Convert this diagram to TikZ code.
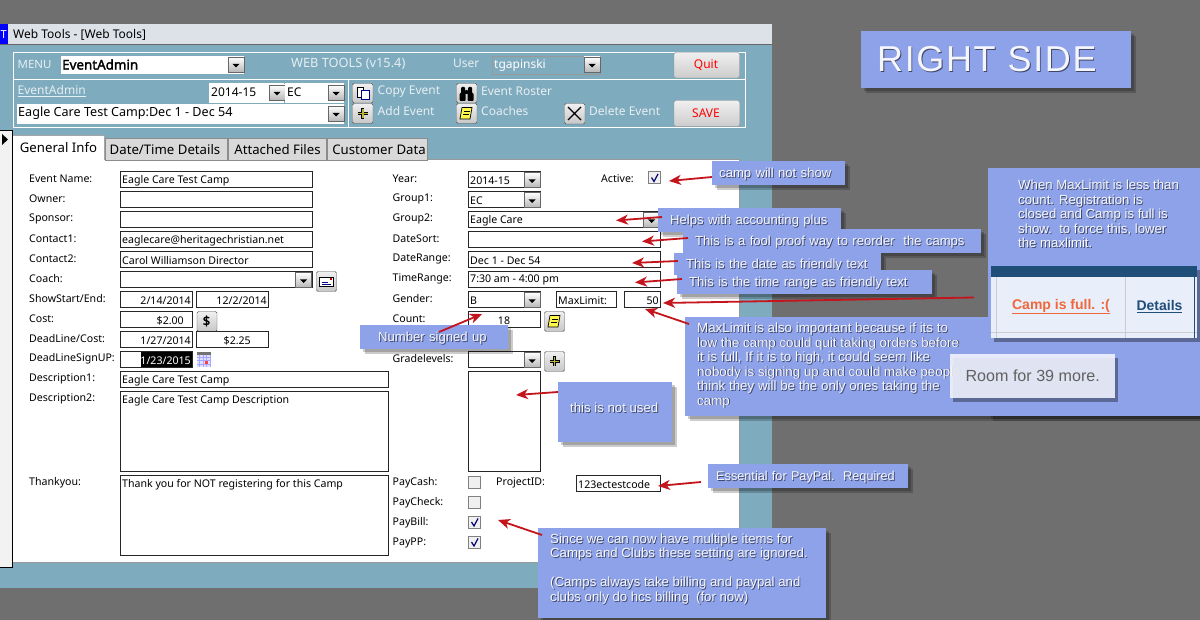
\documentclass[tikz,border=0pt]{standalone}
\usepackage{fontspec}
\setmainfont{Noto Sans}
\newfontfamily\notefont{Liberation Sans}
\newfontfamily\titlefont[LetterSpace=4.5]{Liberation Sans}
\newfontfamily\boldui[FakeBold=2]{Noto Sans}
\usetikzlibrary{arrows.meta,shadows}

\definecolor{backgray}{HTML}{6F6F6F}
\definecolor{tealpanel}{HTML}{7FABBE}
\definecolor{titlegray}{HTML}{DDE1E8}
\definecolor{notefill}{HTML}{8EA2E9}
\definecolor{noteshade}{HTML}{3E4668}
\definecolor{notetxt}{HTML}{F4F6FC}
\definecolor{arrowred}{HTML}{C4141C}
\definecolor{headlight}{HTML}{E6EFF3}
\definecolor{tabgray}{HTML}{D9D9D9}
\definecolor{tablehead}{HTML}{1F4E79}
\definecolor{tablebody}{HTML}{E9EEFB}
\definecolor{roombody}{HTML}{F3F5FE}
\definecolor{campfull}{HTML}{F0683A}

\tikzset{
  fieldline/.style={draw=black!85, line width=.9pt, fill=white},
  fieldtext/.style={anchor=west, inner sep=0pt, yshift=-.8pt, text=black, font=\fontsize{10.6}{12}\selectfont},
  formlabel/.style={anchor=west, inner sep=0pt, yshift=-.8pt, text=black, font=\fontsize{10.6}{12}\selectfont},
  headtext/.style={anchor=west, inner sep=0pt, text=headlight, font=\fontsize{12}{14}\selectfont},
  combotext/.style={anchor=west, inner sep=0pt, text=black, font=\fontsize{12}{14}\selectfont},
  tabtext/.style={anchor=center, inner sep=0pt, text=black, font=\fontsize{13.2}{15}\selectfont},
  bigbutton/.style={draw=black!45, rounded corners=2pt, top color=white!94!black, bottom color=black!20},
  smallbutton/.style={draw=black!60, line width=.4pt, top color=white, bottom color=black!28},
  iconbutton/.style={draw=black!70, rounded corners=1.5pt, top color=white!94!black, bottom color=black!22},
  checkbox/.style={draw=black!50, line width=1pt, fill=black!6},
  notebox/.style={anchor=north west, align=left, inner xsep=7pt, inner ysep=0pt, fill=notefill,
    text height=10pt, text depth=1.4pt,
    text=notetxt, font=\notefont\fontsize{13.1}{14.5}\selectfont,
    drop shadow={shadow xshift=4.5pt, shadow yshift=-4.5pt, fill=black, opacity=.2},
    drop shadow={shadow xshift=2.5pt, shadow yshift=-2.5pt, fill=black, opacity=.2}},
  notetext/.style={anchor=north west, align=left, inner sep=0pt, text=notetxt, font=\notefont\fontsize{13.2}{14.5}\selectfont},
  notearrow/.style={draw=arrowred, line width=1.8pt, -{Stealth[length=12pt,width=10pt,inset=3.5pt]}}
}

\newcommand{\noteline}[1]{\leavevmode\rlap{\kern.9pt\raisebox{-.9pt}{\color{noteshade}#1}}#1}
\newcommand{\dropbtn}[2]{%
  \begin{scope}[shift={(#1,#2)}]
    \draw[smallbutton] (0,0) rectangle (16,15);
    \fill[black] (4.5,7) -- (11.5,7) -- (8,10.5) -- cycle;
  \end{scope}}
\newcommand{\checkmarked}[2]{%
  \draw[checkbox] (#1,#2) rectangle ++(12,12);
  \draw[blue!45!black, line width=1.2pt] (#1+3,#2+6) -- (#1+5.5,#2+10) -- (#1+9.5,#2+2.5);}

\begin{document}
\begin{tikzpicture}[x=1pt,y=-1pt]
\useasboundingbox (0,0) rectangle (1200,620);
\fill[backgray] (0,0) rectangle (1200,620);

% Window and title bar
\fill[tealpanel] (0,45) rectangle (772,588);
\fill[titlegray] (0,24) rectangle (772,45);
\draw[black!60, line width=1pt] (0,45) -- (772,45);
\fill[blue] (0,24) rectangle (7.5,44);
\node[anchor=center, inner sep=0pt, text=white, font=\fontsize{11}{12}\selectfont] (titleicon) at (3.8,34.5) {T};
\node[combotext] (titletext) at (13,35) {Web Tools - [Web Tools]};

% Header frames
\draw[white, line width=.9pt] (13,52) rectangle (745,127);
\draw[white, line width=.9pt] (13,79.5) -- (745,79.5);
\draw[white, line width=.9pt] (348.5,79.5) -- (348.5,127);

% Header first row
\node[headtext, font=\fontsize{11.4}{14}\selectfont] (menulabel) at (17.5,64) {MENU};
\fill[white] (61,56) rectangle (244,74);
\node[combotext, font=\boldui\fontsize{13.4}{14}\selectfont] (menuvalue) at (62,64.5) {EventAdmin};
\dropbtn{228}{57}
\node[headtext, font=\fontsize{12.8}{14}\selectfont] (webtools) at (291,63.5) {WEB TOOLS (v15.4)};
\node[headtext] (userlabel) at (453,63.5) {User};
\draw[black!40, line width=.6pt] (492.5,56) rectangle (600,74);
\node[headtext, text=white] (uservalue) at (494,65) {tgapinski};
\dropbtn{584}{57}
\draw[bigbutton] (674,52.5) rectangle (739.5,78);
\node[tabtext, text=red, font=\fontsize{12}{14}\selectfont] (quit) at (706,65) {Quit};

% Header second row
\node[headtext] (eventlink) at (17.5,91.5) {\underline{EventAdmin}};
\fill[white] (209,83.5) rectangle (284,103);
\node[combotext] (yearvalue) at (211,92.5) {2014-15};
\dropbtn{269}{85}
\fill[white] (285,83.5) rectangle (344,103);
\node[combotext] (ecvalue) at (287,92.5) {EC};
\dropbtn{328}{85}
\fill[white] (17,104) rectangle (344,124);
\node[combotext, font=\fontsize{12.6}{14}\selectfont] (campvalue) at (18,113) {Eagle Care Test Camp:Dec 1 - Dec 54};
\dropbtn{328}{106}
% Icon buttons
\draw[iconbutton] (352.5,83.5) rectangle (373,103);
\draw[black, fill=white] (357,87) rectangle (363,97);
\draw[blue!60!black, fill=white, line width=.8pt] (361,90) rectangle (369,99.5);
\draw[iconbutton] (352.5,103.5) rectangle (373,123.5);
\draw[black, line width=3.4pt] (357.5,113.5) -- (368,113.5) (362.75,108.5) -- (362.75,119);
\draw[yellow!70!black, line width=1.6pt] (358,113.5) -- (367.5,113.5) (362.75,109) -- (362.75,118.5);
\node[headtext] (copylabel) at (377.5,91.5) {Copy Event};
\node[headtext] (addlabel) at (377.5,111.5) {Add Event};
\draw[iconbutton] (456.5,83.5) rectangle (477,103);
\fill[black, rounded corners=1pt] (459.5,93) rectangle (465.5,101) (467.5,93) rectangle (473.5,101) (461,87) rectangle (465,94) (468,87) rectangle (472,94) (465,90) rectangle (468,94);
\draw[iconbutton] (456.5,103.5) rectangle (477,123.5);
\draw[black, fill=yellow!70!white, line width=.7pt] (462,107.5) -- (472,107.5) -- (470,119) -- (460,119) -- cycle;
\draw[black, line width=.6pt] (463.5,111) -- (469.5,111) (463,114) -- (469,114);
\node[headtext] (rosterlabel) at (481,91.5) {Event Roster};
\node[headtext] (coacheslabel) at (481,111.5) {Coaches};
\draw[iconbutton] (564.5,103.5) rectangle (585,124);
\draw[black, line width=1.3pt] (568,107) -- (581,120) (581,107) -- (568,120);
\node[headtext] (deletelabel) at (589,111.5) {Delete Event};
\draw[bigbutton] (674,100.5) rectangle (739.5,126.5);
\node[tabtext, text=red, font=\fontsize{12}{14}\selectfont] (save) at (706,113) {SAVE};

% Record selector and form
\fill[black!5] (0,131) rectangle (12.5,567);
\draw[black, line width=1pt] (0,131) -- (12.5,131) -- (12.5,567) -- (0,567);
\fill[black] (2,134) -- (8,139.5) -- (2,145) -- cycle;
\fill[white] (13,160) rectangle (738.5,562);
\draw[black!40, line width=1pt] (104,160) -- (739.5,160) -- (739.5,562.5) -- (13,562.5);

% Tabs
\fill[white] (13,135) rectangle (104,161);
\draw[black!35] (13,135) -- (104,135) -- (104,160);
\draw[black!45, fill=tabgray] (105,138) rectangle (227,160);
\draw[black!45, fill=tabgray] (228,138) rectangle (326,160);
\draw[black!45, fill=tabgray] (327,138) rectangle (427,160);
\node[tabtext] (tabgeneral) at (58.5,147.5) {General Info};
\node[tabtext] (tabdates) at (165,149.5) {Date/Time Details};
\node[tabtext] (tabfiles) at (277.5,149.5) {Attached Files};
\node[tabtext] (tabcustomer) at (379,149.5) {Customer Data};

% Left column labels
\node[formlabel] (lblevent) at (29,178) {Event Name:};
\node[formlabel] (lblowner) at (29,198) {Owner:};
\node[formlabel] (lblsponsor) at (29,218) {Sponsor:};
\node[formlabel] (lblcontacta) at (29,238) {Contact1:};
\node[formlabel] (lblcontactb) at (29,258) {Contact2:};
\node[formlabel] (lblcoach) at (29,278) {Coach:};
\node[formlabel] (lblshow) at (29,298) {ShowStart/End:};
\node[formlabel] (lblcost) at (29,318) {Cost:};
\node[formlabel] (lbldeadcost) at (29,338) {DeadLine/Cost:};
\node[formlabel] (lblsignup) at (29,358) {DeadLineSignUP:};
\node[formlabel] (lbldesca) at (29,378) {Description1:};
\node[formlabel] (lbldescb) at (29,398) {Description2:};
\node[formlabel] (lblthanks) at (29,482) {Thankyou:};

% Left column fields
\draw[fieldline] (120.5,171.5) rectangle (312.5,187.5);
\node[fieldtext] (valevent) at (122,179.5) {Eagle Care Test Camp};
\draw[fieldline] (120.5,191.5) rectangle (312.5,207.5);
\draw[fieldline] (120.5,211.5) rectangle (312.5,227.5);
\draw[fieldline] (120.5,231.5) rectangle (312.5,247.5);
\node[fieldtext] (valcontacta) at (122,239.5) {eaglecare@heritagechristian.net};
\draw[fieldline] (120.5,251.5) rectangle (312.5,267.5);
\node[fieldtext] (valcontactb) at (122,259.5) {Carol Williamson Director};
\draw[fieldline] (120.5,271.5) rectangle (312.5,287.5);
\dropbtn{295.5}{272.5}
\draw[iconbutton] (316.5,271.5) rectangle (336.5,291.5);
\draw[black, fill=white, line width=.7pt] (319.5,277) rectangle (333.5,286);
\draw[blue!50!black, line width=.8pt] (322,282) -- (328,282) (322,284) -- (331,284);
\fill[red!70!black] (330,278.5) rectangle (332,280);
\draw[fieldline] (120.5,291.5) rectangle (192.5,307.5);
\node[fieldtext, anchor=east] (valshowa) at (191,299.5) {2/14/2014};
\draw[fieldline] (196.5,291.5) rectangle (268.5,307.5);
\node[fieldtext, anchor=east] (valshowb) at (267,299.5) {12/2/2014};
\draw[fieldline] (120.5,311.5) rectangle (192.5,327.5);
\node[fieldtext, anchor=east] (valcost) at (184,319.5) {\$2.00};
\draw[iconbutton] (197,311.5) rectangle (217,331.5);
\node[tabtext, font=\boldui\fontsize{13}{14}\selectfont] (dollar) at (206.5,321) {\$};
\draw[fieldline] (120.5,331.5) rectangle (192.5,347.5);
\node[fieldtext, anchor=east] (valdeadline) at (191,339.5) {1/27/2014};
\draw[fieldline] (196.5,331.5) rectangle (268.5,347.5);
\node[fieldtext, anchor=east] (valdeadcost) at (251,339.5) {\$2.25};
\draw[fieldline] (120.5,351.5) rectangle (192.5,367.5);
\fill[black] (141,352) rectangle (192,367);
\node[fieldtext, anchor=east, text=white] (valsignup) at (191,359.5) {1/23/2015};
% Calendar icon
\fill[blue!12] (197,355) rectangle (211,367);
\draw[blue!35, line width=.5pt, step=3.5pt] (197,355) grid (211,367);
\fill[black!55] (197,352) rectangle (211,355);
\fill[red!75] (205,361) rectangle (208,364);
\draw[fieldline] (120.5,371.5) rectangle (388.5,387.5);
\node[fieldtext] (valdesca) at (122,379.5) {Eagle Care Test Camp};
\draw[fieldline] (120.5,391.5) rectangle (388.5,471.5);
\node[fieldtext] (valdescb) at (122,399.5) {Eagle Care Test Camp Description};
\draw[fieldline] (120.5,475.5) rectangle (388.5,555.5);
\node[fieldtext] (valthanks) at (122,483.5) {Thank you for NOT registering for this Camp};

% Right column labels
\node[formlabel] (lblyear) at (392.5,178) {Year:};
\node[formlabel] (lblgroupa) at (392.5,198) {Group1:};
\node[formlabel] (lblgroupb) at (392.5,218) {Group2:};
\node[formlabel] (lblsort) at (392.5,238) {DateSort:};
\node[formlabel] (lblrange) at (392.5,258) {DateRange:};
\node[formlabel] (lbltime) at (392.5,278) {TimeRange:};
\node[formlabel] (lblgender) at (392.5,298) {Gender:};
\node[formlabel] (lblcount) at (392.5,318) {Count:};
\node[formlabel] (lblgrades) at (392.5,358) {Gradelevels:};
\node[formlabel] (lblactive) at (601,178) {Active:};
\node[formlabel] (lblcash) at (392.5,482) {PayCash:};
\node[formlabel] (lblcheck) at (392.5,502) {PayCheck:};
\node[formlabel] (lblbill) at (392.5,522) {PayBill:};
\node[formlabel] (lblpp) at (392.5,542) {PayPP:};
\node[formlabel] (lblproject) at (496,482) {ProjectID:};

% Right column fields
\draw[fieldline] (468.5,171.5) rectangle (540.5,187.5);
\node[fieldtext] (valyear) at (470,179.5) {2014-15};
\dropbtn{524}{172.5}
\draw[fieldline] (468.5,191.5) rectangle (540.5,207.5);
\node[fieldtext] (valgroupa) at (470,199.5) {EC};
\dropbtn{524}{192.5}
\draw[fieldline] (468.5,211.5) rectangle (660.5,227.5);
\node[fieldtext] (valgroupb) at (470,219.5) {Eagle Care};
\dropbtn{643.5}{212.5}
\draw[fieldline] (468.5,231.5) rectangle (660.5,247.5);
\draw[fieldline] (468.5,251.5) rectangle (660.5,267.5);
\node[fieldtext] (valrange) at (470,259.5) {Dec 1 - Dec 54};
\draw[fieldline] (468.5,271.5) rectangle (660.5,287.5);
\node[fieldtext] (valtime) at (470,279.5) {7:30 am - 4:00 pm};
\draw[fieldline] (468.5,291.5) rectangle (540.5,307.5);
\node[fieldtext] (valgender) at (470,299.5) {B};
\dropbtn{524}{292.5}
\draw[fieldline] (556.5,291.5) rectangle (616,307.5);
\node[fieldtext] (lblmax) at (558,299.5) {MaxLimit:};
\draw[fieldline] (624.5,291.5) rectangle (660.5,307.5);
\node[fieldtext, anchor=east] (valmax) at (659,299.5) {50};
\draw[fieldline] (468.5,311.5) rectangle (540.5,327.5);
\node[fieldtext, anchor=center] (valcount) at (504,319.5) {18};
\draw[iconbutton] (544.5,311.5) rectangle (564.5,331.5);
\draw[black, fill=yellow!70!white, line width=.7pt] (550,315.5) -- (560,315.5) -- (558,327) -- (548,327) -- cycle;
\draw[black, line width=.6pt] (551.5,319) -- (557.5,319) (551,322) -- (557,322);
\draw[fieldline] (468.5,351.5) rectangle (540.5,367.5);
\dropbtn{524}{352.5}
\draw[iconbutton] (544.5,351.5) rectangle (564.5,371.5);
\draw[black, line width=3.4pt] (549.5,361.5) -- (559.5,361.5) (554.5,356.5) -- (554.5,366.5);
\draw[yellow!70!black, line width=1.6pt] (550,361.5) -- (559,361.5) (554.5,357) -- (554.5,366);
\draw[fieldline] (468.5,371.5) rectangle (540.5,471.5);
\draw[fieldline] (576.5,475.5) rectangle (660.5,491);
\node[fieldtext] (valproject) at (578,483.5) {123ectestcode};

% Check boxes
\checkmarked{648.5}{171.5}
\draw[checkbox] (468.5,476) rectangle ++(12,12);
\draw[checkbox] (468.5,496) rectangle ++(12,12);
\checkmarked{468.5}{516}
\checkmarked{468.5}{536}

% Title note
\node[notebox, text width=238pt, inner xsep=16pt, minimum height=57pt, text height=26pt, text depth=3pt, font=\titlefont\fontsize{36}{42}\selectfont] (noteside) at (861,31) {\noteline{RIGHT SIDE}};

% Notes beside the form
\node[notebox, text width=119pt, minimum height=24pt] (notecamp) at (712,161) {\noteline{camp will not show}};
\node[notebox, inner xsep=12pt, text width=159pt, minimum height=24pt] (notehelps) at (658,208) {\noteline{Helps with accounting plus}};
\node[notebox, inner xsep=12pt, text width=274pt, minimum height=24pt] (notefool) at (683,229) {\noteline{This is a fool proof way to reorder\ \ the camps}};
\node[notebox, inner xsep=12pt, text width=183pt, minimum height=22pt] (notedate) at (674,253) {\noteline{This is the date as friendly text}};
\node[notebox, inner xsep=12pt, text width=231pt, minimum height=24pt] (notetime) at (677,270) {\noteline{This is the time range as friendly text}};
\node[notebox, inner xsep=18pt, text width=112pt, minimum height=24pt] (notenumber) at (360,325) {\noteline{Number signed up}};
\node[notebox, inner xsep=0pt, text width=114pt, minimum height=60pt] (noteunused) at (558,382) {};
\node[notetext] (textunused) at (570,402.5) {\noteline{this is not used}};
\node[notebox, inner xsep=8pt, text width=184pt, minimum height=24pt, font=\notefont\fontsize{12.7}{14.5}\selectfont] (notepaypal) at (708,464) {\noteline{Essential for PayPal.\ \ Required}};
\node[notebox, inner xsep=0pt, text width=288pt, minimum height=90pt] (notesince) at (538,528) {};
\node[notetext] (textsince) at (550,533.7) {\noteline{Since we can now have multiple items for}\\\noteline{Camps and Clubs these setting are ignored.}\\[14.5pt]\noteline{(Camps always take billing and paypal and}\\\noteline{clubs only do hcs billing\ \ (for now)}};

% Right panel
\node[notebox, inner xsep=0pt, text width=212pt, minimum height=248pt] (notepanel) at (988,168) {};
\node[notebox, inner xsep=0pt, text width=515pt, minimum height=99pt] (notemax) at (685,317) {};
\fill[notefill] (988,168) rectangle (1200,410);
\node[notetext] (textpanel) at (1018,180) {\noteline{When MaxLimit is less than}\\\noteline{count. Registration is}\\\noteline{closed and Camp is full is}\\\noteline{show.\ \ to force this, lower}\\\noteline{the maxlimit.}};
\node[notetext, font=\notefont\fontsize{13.35}{14.5}\selectfont] (textmax) at (697,322.7) {\noteline{MaxLimit is also important because if its to}\\\noteline{low the camp could quit taking orders before}\\\noteline{it is full, If it is to high, it could seem like}\\\noteline{nobody is signing up and could make people}\\\noteline{think they will be the only ones taking the}\\\noteline{camp}};

% Full camp table
\fill[black, opacity=.35] (994,270) rectangle (1200,342);
\fill[tablebody] (991,266) rectangle (1197,338);
\fill[tablehead] (991,266) rectangle (1197,277);
\draw[black!20] (996,277) -- (996,338) (1125,277) -- (1125,338) (991,332) -- (1197,332);
\draw[tablehead, line width=1pt] (1194,277) -- (1194,338);
\node[anchor=center, inner sep=0pt, text=campfull, font=\notefont\bfseries\fontsize{14}{16}\selectfont] (campfull) at (1061,306.5) {\underline{Camp is full. :(}};
\node[anchor=center, inner sep=0pt, text=tablehead, font=\notefont\bfseries\fontsize{14}{16}\selectfont] (details) at (1159.5,306.5) {\underline{Details}};

% Room box
\fill[black, opacity=.35] (953,358) rectangle (1118,402);
\node[anchor=north west, fill=roombody, fill opacity=.88, text opacity=1, inner sep=0pt, minimum width=165pt, minimum height=44pt, text=black!62, font=\notefont\fontsize{16.1}{18}\selectfont] (roomnote) at (950,354) {Room for 39 more.};

% Draw arrows in red
\coordinate (tipcamp) at (669,181);
\coordinate (tailcamp) at (712,177);
\coordinate (tiphelps) at (616,220.5);
\coordinate (tailhelps) at (662,217);
\coordinate (tipfool) at (642,241.5);
\coordinate (tailfool) at (688,238);
\coordinate (tipdate) at (632,263);
\coordinate (taildate) at (678,261);
\coordinate (tiptime) at (635,282.5);
\coordinate (tailtime) at (682,279);
\coordinate (tipmax) at (663,303);
\coordinate (tailmax) at (974,297.5);
\coordinate (tiplimit) at (645,309);
\coordinate (taillimit) at (689,324);
\coordinate (tipnumber) at (482,314);
\coordinate (tailnumber) at (439,332);
\coordinate (tipunused) at (516,395);
\coordinate (tailunused) at (558,392);
\coordinate (tippaypal) at (658,486);
\coordinate (tailpaypal) at (701,482);
\coordinate (tipsince) at (498,520);
\coordinate (tailsince) at (542,535);
\draw[notearrow] (tailcamp) -- (tipcamp);
\draw[notearrow] (tailhelps) -- (tiphelps);
\draw[notearrow] (tailfool) -- (tipfool);
\draw[notearrow] (taildate) -- (tipdate);
\draw[notearrow] (tailtime) -- (tiptime);
\draw[notearrow] (tailmax) -- (tipmax);
\draw[notearrow] (taillimit) -- (tiplimit);
\draw[notearrow] (tailnumber) -- (tipnumber);
\draw[notearrow] (tailunused) -- (tipunused);
\draw[notearrow] (tailpaypal) -- (tippaypal);
\draw[notearrow] (tailsince) -- (tipsince);
\end{tikzpicture}
\end{document}
